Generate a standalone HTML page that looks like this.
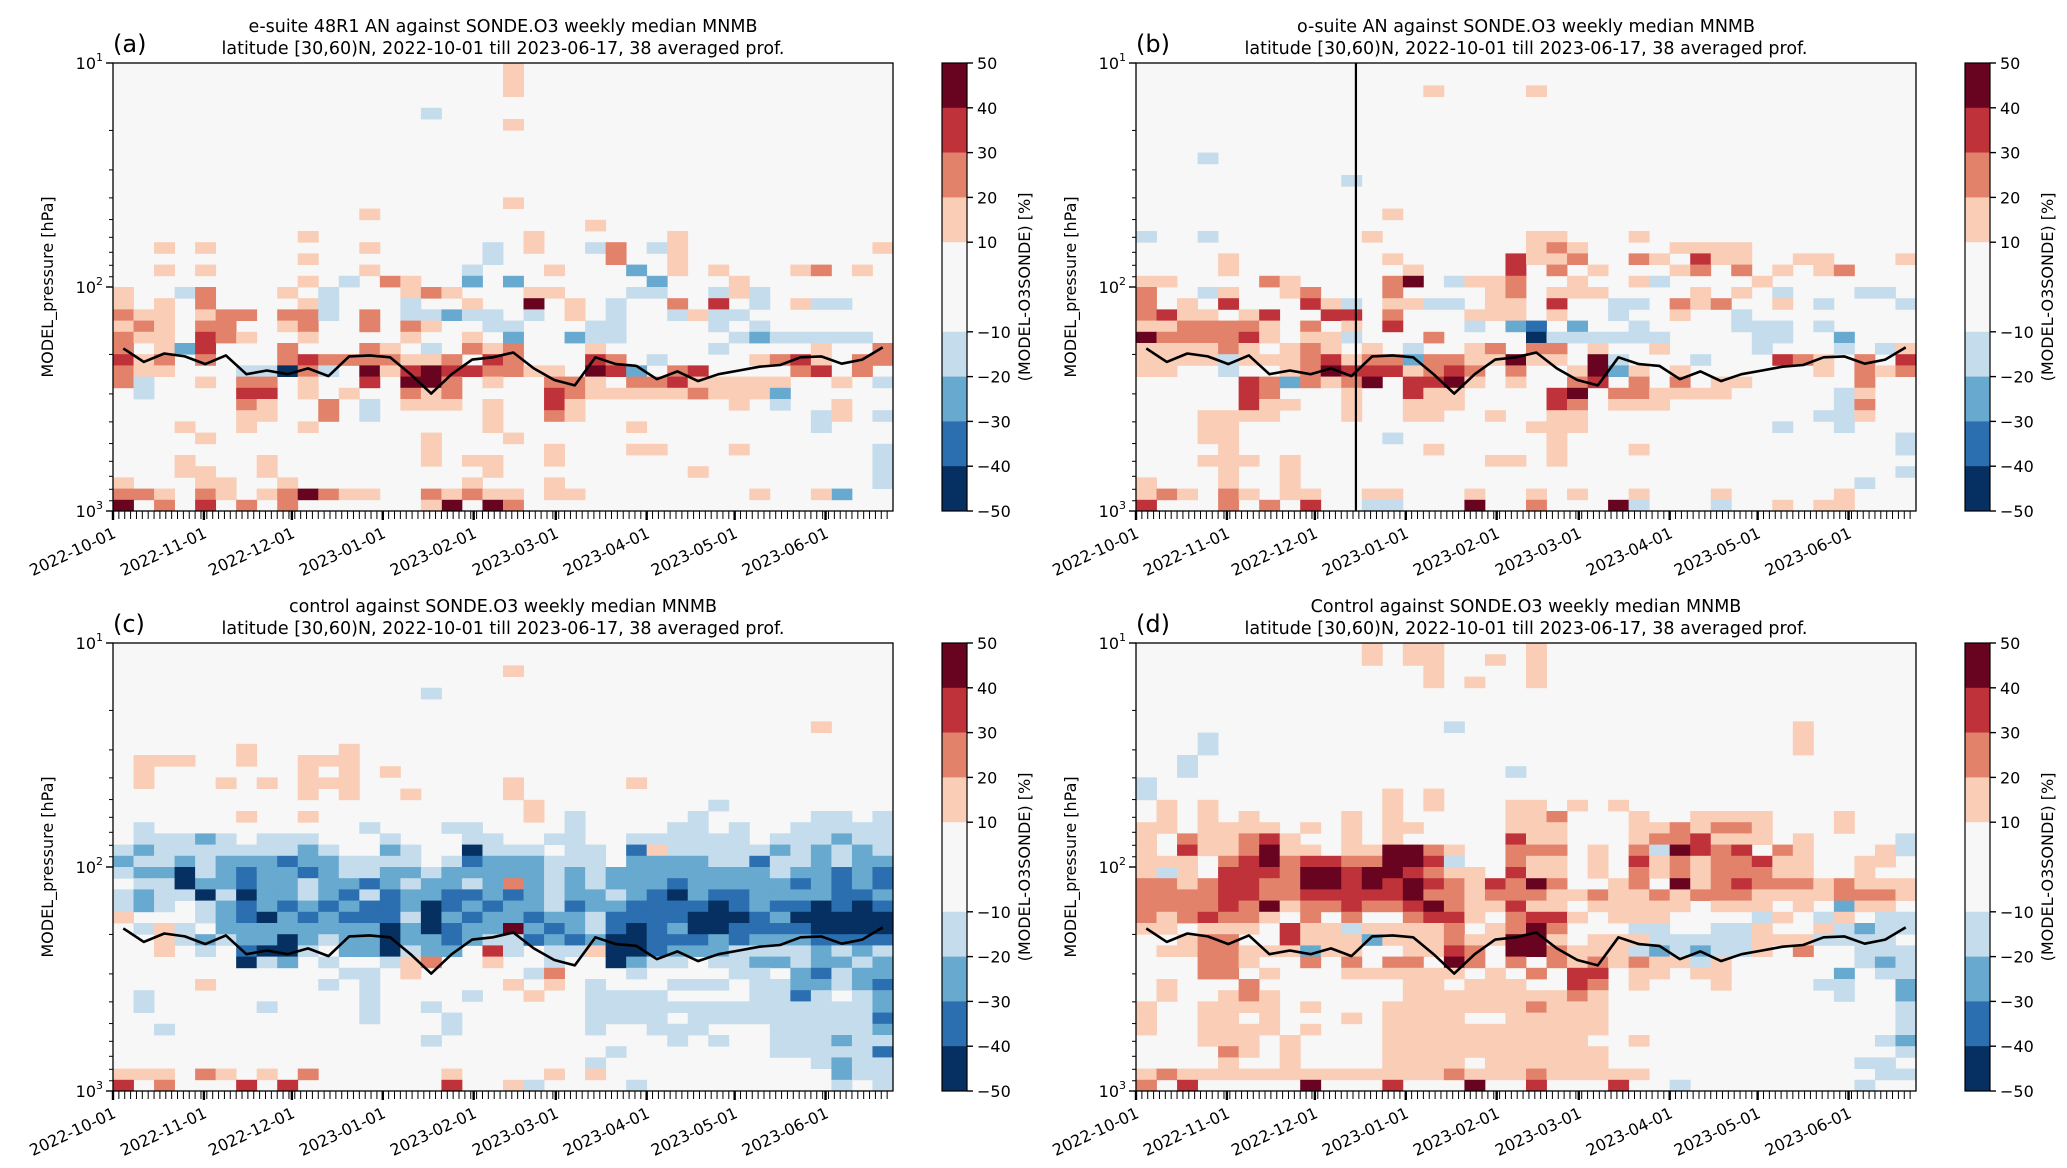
<!DOCTYPE html>
<html><head><meta charset="utf-8">
<style>
html,body{margin:0;padding:0;background:#fff;}
svg{display:block;font-family:"DejaVu Sans","Liberation Sans",sans-serif;}
</style></head>
<body>
<svg id="fig" width="2067" height="1168" viewBox="0 0 2067 1168" xmlns="http://www.w3.org/2000/svg"></svg>
<script>
// ---------- data ----------
const nWeeks = 38;
const startDate = "2022-10-01";
const monthLabels = ["2022-10-01","2022-11-01","2022-12-01","2023-01-01","2023-02-01","2023-03-01","2023-04-01","2023-05-01","2023-06-01"];
const monthDays = [0,31,61,92,123,151,182,212,243];
const cbarTicks = [50,40,30,20,10,-10,-20,-30,-40,-50];
const cbarBounds = [-50,-40,-30,-20,-10,10,20,30,40,50];
const tropoPressure = [188,216,198,204,221,202,245,236,245,231,250,204,202,206,245,299,245,211,206,196,231,260,275,206,221,225,258,238,263,245,236,227,223,206,204,220,211,186];
const codeValue = {'1':15,'2':25,'3':35,'4':45,'a':-15,'b':-25,'c':-35,'d':-45};
const titlesL1 = ["e-suite 48R1 AN against SONDE.O3 weekly median MNMB","o-suite AN against SONDE.O3 weekly median MNMB","control against SONDE.O3 weekly median MNMB","Control against SONDE.O3 weekly median MNMB"];
const titleL2 = "latitude [30,60)N, 2022-10-01 till 2023-06-17, 38 averaged prof.";
const panelTags = ["(a)","(b)","(c)","(d)"];
const vlineDay = [null,75,null,null];

const gridA = ["19:1","19:1","19:1","","15:a","19:1","","","","","","","19:1","12:1","23:1","9:1 20:1 27:1",
"23:a 24:2 18:a 2:1 4:1 12:1 26:a 37:1 20:1 27:1","24:2 27:1 9:1 18:a",
"2:1 4:1 17:a 21:1 25:b 27:1 29:1 33:1 34:2 36:1 12:1",
"17:b 19:b 9:1 11:a 13:2 26:b 14:1 30:1",
"0:1 3:a 4:2 8:1 10:a 14:1 15:2 16:1 20:1 21:1 25:a 26:a 29:a 30:1 31:a",
"0:1 2:1 4:2 9:1 10:a 14:a 17:1 20:4 22:1 24:a 27:2 29:3 31:a 33:1 34:a 35:a",
"0:2 1:1 2:1 4:1 5:2 6:2 8:2 9:2 10:a 12:2 14:a 15:a 16:b 17:a 18:a 20:a 22:1 24:a 27:a 28:1 29:a 30:a",
"0:1 1:2 2:1 4:2 5:2 8:1 9:2 12:2 14:2 15:1 18:a 19:a 23:a 24:a 29:a 31:a",
"0:2 1:1 2:1 4:3 5:2 6:1 9:1 14:1 17:1 19:b 22:b 23:a 24:a 30:a 31:b 32:a 33:a 34:a 35:a 36:a",
"0:2 2:1 3:b 4:3 8:2 12:2 13:1 15:a 17:2 18:1 19:2 23:1 29:a 34:1 37:2",
"0:3 1:1 2:2 4:2 8:2 9:3 10:2 11:2 12:2 13:2 14:1 15:1 16:2 18:3 19:2 23:3 24:2 26:a 31:1 32:2 33:3 34:1 36:2 37:2",
"0:2 1:1 2:1 6:a 7:a 8:d 9:2 10:a 12:4 13:1 14:3 15:4 16:3 17:3 18:2 19:2 20:1 21:1 23:4 24:3 25:b 27:2 28:3 33:2 34:3 36:2",
"0:2 1:a 4:1 6:2 7:2 9:1 12:3 14:4 15:4 16:2 18:1 21:2 22:2 23:1 25:2 26:2 27:3 28:1 29:1 30:1 31:1 32:1 35:1 37:a",
"1:a 6:3 7:3 9:1 11:1 14:2 15:1 16:2 21:3 22:2 23:1 24:1 25:1 26:1 27:1 28:2 29:1 30:1 31:1 32:b",
"6:2 7:1 10:2 12:a 14:1 15:1 16:1 18:1 21:3 22:1 30:1 32:a 35:1",
"6:1 7:1 10:2 12:a 18:1 21:2 22:1 35:1 34:a 37:a",
"3:1 9:1 6:1 18:1 34:a 25:1","4:1 15:1 19:1","15:1 21:1 25:1 26:1 30:1 37:a",
"3:1 7:1 15:1 21:1 17:1 18:1 37:a","3:1 4:1 7:1 18:1 28:1 37:a","0:1 4:1 5:1 8:1 17:1 21:1 37:a",
"0:2 1:2 2:1 4:2 5:1 7:1 8:2 9:4 10:2 11:1 12:1 15:2 16:1 17:2 18:1 19:1 21:1 22:1 35:b 31:1 34:1",
"0:4 2:2 4:3 6:2 8:2 16:4 18:4 19:2 15:1"];

const gridB = ["","","14:1 19:1","","","","","","3:a","","10:a","","","12:1","",
"24:1 19:1 20:1 3:a 0:a 11:1",
"19:1 20:2 21:1 28:1 27:1 29:1 26:1",
"4:1 12:1 18:3 19:1 20:1 21:2 24:2 25:1 27:3 28:1 29:1 32:1 33:1 37:1",
"4:1 13:1 18:3 20:2 22:1 26:1 27:2 29:2 31:1 33:1 34:2",
"0:1 1:1 6:2 7:1 12:2 13:4 15:a 16:1 17:1 18:2 21:1 24:1 25:a 30:1",
"0:2 3:a 4:1 7:1 8:2 12:2 17:1 18:2 20:1 21:1 22:1 27:1 29:1 31:a 35:a 36:a",
"0:2 2:1 4:3 8:3 9:1 10:a 12:1 13:1 14:a 15:a 17:1 18:1 20:3 23:a 24:a 26:2 27:1 28:2 31:1 33:a 37:a",
"0:2 1:3 2:1 3:1 5:1 6:3 9:3 10:3 12:2 16:1 17:1 18:1 20:1 23:a 26:1 29:a",
"0:1 1:1 2:2 3:2 4:2 5:2 6:1 8:2 10:1 12:3 16:a 18:b 19:c 21:b 24:a 29:a 30:a 31:a 33:a",
"0:4 1:2 2:2 3:2 4:2 5:3 6:1 8:1 9:1 10:a 14:2 19:d 20:a 21:a 22:a 23:a 24:a 25:a 30:a 31:a 34:b",
"0:1 1:1 2:1 3:1 4:2 5:1 7:1 8:2 9:1 11:1 13:a 16:1 17:2 19:2 20:2 22:1 25:1 30:a 34:a 36:a 37:1",
"0:1 1:1 2:1 3:1 4:a 5:1 6:1 7:1 8:2 9:3 10:1 11:2 12:2 13:b 14:2 15:2 16:1 17:1 18:4 19:1 20:1 22:4 23:a 27:a 31:3 32:2 33:1 35:2 37:3",
"0:1 1:1 4:a 7:1 8:2 9:4 10:3 11:3 12:3 13:1 14:2 15:3 16:2 18:2 21:1 22:4 23:b 24:1 26:1 33:1 35:2 36:1 37:2",
"5:3 6:2 7:b 8:2 9:1 10:2 11:4 13:3 14:3 15:4 16:1 18:1 21:2 22:3 24:2 26:2 28:1 29:1 35:2",
"5:3 6:2 10:1 13:3 14:1 15:1 20:3 21:4 23:2 24:2 25:1 26:1 27:1 28:1 34:a 35:1",
"5:3 6:1 7:1 10:1 13:1 14:1 15:1 20:3 21:2 23:1 24:1 25:1 34:a 35:2",
"3:1 4:1 5:1 6:1 10:1 13:1 14:1 17:1 20:1 21:1 33:a 34:a 35:1",
"4:1 3:1 20:1 21:1 34:a 31:a 19:1","3:1 4:1 12:a 20:1 37:a","4:1 14:1 20:1 37:a 24:1",
"3:1 4:1 5:1 7:1 17:1 18:1 20:1","4:1 7:1 37:a","0:1 4:1 7:1 35:a",
"0:1 1:2 2:1 4:2 5:1 7:1 8:1 11:1 12:1 16:1 19:1 21:1 24:1 28:1 34:1",
"0:3 4:2 6:2 8:3 11:a 12:a 16:4 19:2 23:4 24:a 28:a 33:1 34:1 31:1"];

const gridC = ["","","19:1","","15:a","","","34:1","","6:1 11:1",
"1:1 2:1 3:1 6:1 9:1 10:1 11:1","1:1 9:1 11:1 13:1","1:1 5:1 7:1 9:1 10:1 11:1 19:1 25:1","9:1 11:1 14:1 19:1","20:1 29:a",
"6:1 9:1 20:1 22:a 28:a 34:a 37:a 35:a",
"1:a 12:a 16:a 17:a 22:a 27:a 28:a 30:a 33:a 34:a 35:a 36:a 37:a",
"1:a 2:a 3:a 4:b 5:a 7:a 8:a 9:a 13:a 17:a 18:a 21:a 22:a 25:a 26:a 27:a 28:a 29:a 30:a 32:a 33:a 34:a 35:b 36:a 37:a",
"0:a 1:b 2:a 3:a 4:a 5:a 6:a 7:a 8:a 9:b 10:a 13:b 14:a 17:d 18:a 19:a 20:a 22:a 23:a 25:c 26:1 27:a 28:a 29:a 30:a 31:a 32:b 33:a 34:b 35:a 36:b 37:a",
"0:b 1:a 2:a 3:b 4:a 5:b 6:b 7:b 8:c 9:b 10:b 11:a 12:a 13:a 14:a 16:a 17:c 18:b 19:b 20:b 21:a 22:a 23:a 25:b 26:b 27:b 28:b 29:a 30:a 31:c 32:a 33:a 34:b 35:a 36:b 37:b",
"0:a 1:b 2:b 3:d 4:a 5:b 6:c 7:b 8:b 9:c 10:b 11:a 12:a 13:b 14:b 15:a 16:b 17:b 18:b 19:b 20:b 21:a 22:b 23:a 24:b 25:b 26:b 27:b 28:b 29:b 30:b 31:b 32:a 33:b 34:b 35:c 36:b 37:c",
"1:a 2:a 3:d 4:b 5:b 6:c 7:b 8:b 9:a 10:b 11:b 12:c 13:b 14:a 15:b 16:b 17:a 18:b 19:2 20:b 21:a 22:b 23:a 24:b 25:b 26:b 27:c 28:b 29:b 30:b 31:b 32:b 33:c 34:b 35:c 36:b 37:c",
"0:a 1:b 2:a 3:a 4:d 5:a 6:d 7:b 8:b 9:a 10:b 11:c 12:a 13:c 14:b 15:b 16:c 17:c 18:b 19:c 20:b 21:a 22:b 23:b 24:a 25:b 26:c 27:d 28:b 29:c 30:c 31:b 32:b 33:b 34:b 35:c 36:c 37:b",
"0:a 1:b 2:a 4:a 5:b 6:c 7:b 8:c 9:b 10:c 11:b 12:c 13:c 14:b 15:d 16:c 17:b 18:c 19:b 20:b 21:a 22:c 23:b 24:b 25:c 26:c 27:c 28:c 29:d 30:c 31:b 32:c 33:c 34:d 35:c 36:d 37:c",
"0:1 4:a 5:b 6:c 7:d 8:b 9:c 10:b 11:c 12:c 13:c 14:a 15:d 16:b 17:c 18:b 19:b 20:c 21:b 22:b 23:a 24:c 25:c 26:c 27:c 28:d 29:d 30:d 31:c 32:b 33:d 34:d 35:d 36:d 37:d",
"1:a 2:1 3:a 5:b 6:b 7:b 8:b 9:b 10:b 11:b 12:b 13:d 14:b 15:d 16:c 17:b 18:b 19:4 20:b 21:c 22:b 23:a 24:c 25:d 26:c 27:b 28:d 29:d 30:c 31:c 32:c 33:c 34:d 35:d 36:d 37:d",
"2:1 3:a 4:b 5:a 6:b 7:b 8:d 9:b 10:a 11:b 12:b 13:d 14:b 15:b 16:c 17:b 18:a 19:a 20:c 21:b 22:c 23:b 24:d 25:d 26:c 27:c 28:c 29:b 30:c 31:b 32:b 33:b 34:c 35:c 36:c 37:c",
"2:1 4:a 6:c 7:d 8:d 9:a 11:b 12:b 13:d 14:a 15:b 16:b 18:3 19:a 21:a 22:a 23:1 24:d 25:d 26:c 27:b 28:b 29:b 30:a 31:a 32:a 33:a 34:b 35:a 36:b 37:a",
"6:d 7:a 8:b 10:a 13:a 14:1 15:2 18:1 21:a 24:d 25:b 26:a 27:a 29:a 30:a 31:b 32:b 33:a 34:b 35:b 36:a 37:b",
"11:a 12:a 14:1 20:a 21:2 25:a 30:a 31:a 33:b 34:c 35:a 36:b 37:b",
"4:1 10:a 12:a 19:1 21:1 23:a 27:a 28:a 29:a 31:a 32:a 33:b 34:b 35:a 36:b 37:c",
"1:a 12:a 17:a 20:1 23:a 24:a 25:a 26:a 31:a 32:a 33:c 34:a 36:a 37:b",
"1:a 7:a 12:a 15:a 23:a 24:a 25:a 26:a 27:a 28:a 29:a 30:a 31:a 32:a 33:a 34:a 35:a 36:a 37:b",
"12:a 16:a 23:a 24:a 25:a 26:a 28:a 29:a 30:a 31:a 32:a 33:a 34:a 35:a 36:a 37:c",
"2:a 16:a 23:a 26:a 27:a 28:a 32:a 33:a 34:a 35:a 36:a 37:b",
"15:a 27:a 29:a 32:a 33:a 34:a 35:b 36:a 37:a",
"24:a 32:a 33:a 34:a 35:a 36:a 37:c",
"23:a 34:a 35:b 36:a 37:a",
"0:1 1:1 2:1 4:2 5:1 7:1 9:2 16:1 21:1 23:1 35:b 36:a 37:a",
"0:3 2:2 6:3 8:3 16:3 19:1 20:a 25:a 35:a 37:a"];

const gridD = ["11:1 13:1 14:1 19:1","11:1 13:1 14:1 17:1 19:1","14:1 19:1","14:1 16:1 19:1","","","","15:a 32:1","3:a 32:1","3:a 32:1",
"2:a","2:a 18:a","0:a","0:a 12:1 14:1",
"1:1 3:1 12:1 14:1 18:1 19:1 21:1 23:1",
"1:1 3:1 5:1 10:1 12:1 18:1 19:1 20:2 24:1 27:1 28:1 29:1 30:1 34:1",
"0:1 1:1 3:1 4:1 5:1 6:1 8:1 10:1 12:1 13:1 18:1 19:1 20:1 24:1 25:1 26:2 27:1 28:2 29:2 30:1 34:1",
"0:1 2:2 3:1 4:1 5:2 6:3 7:1 10:1 12:1 18:3 19:1 20:1 24:1 25:2 26:2 27:3 28:1 29:1 30:1 32:1 37:a",
"0:1 2:3 3:1 4:1 5:2 6:4 7:1 8:1 10:1 11:1 12:4 13:4 14:2 15:1 18:2 19:2 20:2 22:1 24:2 25:a 26:4 27:3 28:2 29:3 31:2 32:1 36:1 37:a",
"0:1 1:1 2:1 4:2 5:3 6:4 7:2 8:3 9:3 10:2 11:2 12:4 13:4 14:3 15:a 18:2 19:1 20:1 22:1 24:3 25:1 26:2 27:1 28:2 29:2 30:3 31:1 32:1 35:1 36:1",
"0:1 1:a 2:1 4:3 5:3 6:3 7:2 8:4 9:4 10:3 11:4 12:4 13:3 14:2 15:1 16:1 18:3 19:1 20:1 22:1 24:2 25:1 26:2 27:1 28:2 29:2 30:2 31:1 32:1 35:1",
"0:2 1:2 2:1 3:2 4:3 5:3 6:2 7:2 8:4 9:4 10:3 11:4 12:3 13:4 14:3 15:2 16:1 17:3 18:2 19:4 20:2 23:1 24:2 26:4 27:1 28:2 29:3 30:2 31:2 32:2 33:1 34:2 35:1 36:1 37:1",
"0:2 1:2 2:2 3:2 4:3 5:3 6:2 7:2 8:3 9:3 10:3 11:3 12:3 13:4 14:2 15:2 16:1 17:2 18:2 19:2 20:1 21:1 22:2 23:1 24:1 25:2 26:1 27:2 28:2 29:2 30:1 31:1 32:1 33:1 34:2 35:2 36:2 37:1",
"0:2 1:2 2:2 3:2 4:3 5:2 6:4 7:1 8:2 9:2 10:3 11:2 12:2 13:3 14:4 15:2 16:1 17:1 18:3 19:1 20:1 22:1 23:1 24:1 25:1 26:1 28:1 29:1 30:1 32:1 34:b 35:1 36:1",
"0:2 1:1 2:2 3:3 4:2 5:2 6:1 8:2 10:2 13:2 14:3 15:3 16:1 18:2 19:3 20:3 21:1 23:1 24:1 25:1 30:a 31:1 33:a 34:1 36:a 37:a",
"0:1 1:1 3:1 4:1 5:1 7:3 8:1 9:1 10:a 11:1 12:1 13:1 14:1 15:2 17:1 18:2 19:4 20:2 24:a 25:a 28:a 29:a 30:1 33:1 34:a 35:b 36:a 37:a",
"2:1 3:2 4:2 7:3 8:1 9:1 10:1 11:b 12:1 13:1 14:1 15:2 16:1 17:1 18:4 19:4 20:1 22:1 23:1 24:1 25:a 26:a 27:a 28:a 29:a 30:1 31:1 32:1 33:a 34:a 35:a 36:a",
"1:1 2:1 3:2 4:2 5:1 6:1 7:1 8:b 9:1 10:1 13:1 14:1 15:3 16:2 18:4 19:4 20:2 21:1 22:1 23:1 24:a 25:b 26:a 27:b 28:a 29:a 30:1 32:2 35:a 36:a 37:a",
"3:2 4:2 5:1 8:2 10:2 12:2 13:2 15:4 16:2 18:2 20:2 21:1 22:2 23:1 24:2 25:1 26:1 27:a 28:1 35:a 36:b 37:a",
"3:2 4:2 6:1 10:1 11:1 12:1 13:1 14:1 15:1 17:1 19:2 21:3 22:3 24:1 25:1 27:1 28:1 34:b 36:a 37:a",
"1:1 5:2 13:1 14:1 16:1 17:1 18:1 21:3 22:2 24:1 28:1 33:a 34:a 37:b",
"1:1 4:1 5:2 6:1 13:1 14:1 15:1 16:1 17:1 18:1 19:1 20:1 21:2 22:1 34:a 37:b",
"0:1 3:1 4:1 5:1 6:1 8:1 12:1 13:1 14:1 15:1 16:1 17:1 18:1 19:2 20:1 21:1 22:1 37:a",
"0:1 3:1 4:1 6:1 10:1 12:1 13:1 14:1 15:1 18:1 19:1 20:1 21:1 22:1 37:a",
"0:1 3:1 4:1 5:1 6:1 8:1 12:1 13:1 14:1 15:1 16:1 17:1 18:1 19:1 20:1 21:1 22:1 37:a",
"3:1 4:1 5:1 7:1 12:1 13:1 14:1 15:1 16:1 17:1 18:1 19:1 20:1 21:1 24:1 36:a 37:b",
"4:2 5:1 7:1 12:1 13:1 14:1 15:1 16:1 17:1 18:1 19:1 20:1 21:1 22:1 37:a",
"4:1 7:1 12:1 13:1 14:1 15:1 17:1 18:1 19:1 20:1 21:1 22:1 35:a 36:a",
"0:1 1:2 2:1 3:1 4:1 5:1 6:1 7:1 8:1 9:1 10:1 11:1 12:1 13:1 14:1 15:2 16:1 17:1 18:1 19:2 20:1 21:1 22:1 23:1 24:1 36:a 37:a",
"0:2 2:3 8:4 12:3 16:4 19:3 23:3 26:a 35:a"];

const grids = [gridA, gridB, gridC, gridD];

// ---------- layout ----------
const NS = "http://www.w3.org/2000/svg";
const svg = document.getElementById('fig');
const W = 780, H = 448, NROWS = 40, DAYS = 266;
const origins = [[113,63],[1136,63],[113,643],[1136,643]];
const cbarColors = ['#053061','#2b6fb1','#67a9cf','#c4dcec','#f7f7f7','#f9cdb6','#e3826a','#c0323a','#690420'];
function colorFor(v){
  for (let i=0;i<cbarBounds.length-1;i++){ if (v>=cbarBounds[i] && v<cbarBounds[i+1]) return cbarColors[i]; }
  return v>=50 ? cbarColors[8] : cbarColors[0];
}
const cbarBandColors = ['#053061','#2b6fb1','#67a9cf','#c4dcec','#f7f7f7','#f9cdb6','#e3826a','#c0323a','#690420'];
function el(tag, attrs, parent){
  const e = document.createElementNS(NS, tag);
  for (const k in attrs) e.setAttribute(k, attrs[k]);
  (parent||svg).appendChild(e);
  return e;
}
function yOfP(oy, p){ return oy + (Math.log10(p)-1)/2*H; }
function xOfDay(ox, d){ return ox + d/DAYS*W; }

origins.forEach((o, pi) => {
  const [ox, oy] = o;
  const g = el('g', {});
  
  
  const bg = el('rect', {x:ox, y:oy, width:W, height:H, fill:'#f7f7f7'}, g);
  
  
  // heatmap
  const cw = W/nWeeks, rh = H/NROWS;
  const hm = el('g', {}, g);
  
  
  grids[pi].forEach((row, r) => {
    row.split(' ').filter(s=>s).forEach(tok => {
      const [c, code] = tok.split(':');
      const v = codeValue[code];
      const cell = el('rect', {x:(ox + (+c)*cw).toFixed(2), y:(oy + r*rh).toFixed(2), width:(cw+0.4).toFixed(2), height:(rh+0.4).toFixed(2), fill:colorFor(v)}, hm);
      
      
    });
  });
  // tropopause line
  const pts = tropoPressure.map((p,i)=> (ox + (i+0.5)*cw).toFixed(1)+','+yOfP(oy,p).toFixed(1)).join(' ');
  const line = el('polyline', {points:pts, fill:'none', stroke:'#000', 'stroke-width':2.6, 'stroke-linejoin':'round'}, g);
  
  
  if (vlineDay[pi] !== null){
    const vx = xOfDay(ox, vlineDay[pi]);
    const vl = el('line', {x1:vx, x2:vx, y1:oy, y2:oy+H, stroke:'#000', 'stroke-width':2.2}, g);
    
    
  }
  const frame = el('rect', {x:ox, y:oy, width:W, height:H, fill:'none', stroke:'#000', 'stroke-width':1.3}, g);
  
  
  // y ticks
  [10,100,1000].forEach((p,i) => {
    const y = yOfP(oy,p);
    el('line', {x1:ox-7, x2:ox, y1:y, y2:y, stroke:'#000', 'stroke-width':1.4}, g);
    const t = el('text', {x:ox-10, y:y+6, 'font-size':16, 'text-anchor':'end', fill:'#000'}, g);
    
    
    t.innerHTML = '10<tspan dy="-8" font-size="11">' + (i+1) + '</tspan>';
  });
  [20,30,40,50,60,70,80,90,200,300,400,500,600,700,800,900].forEach(p => {
    const y = yOfP(oy,p);
    el('line', {x1:ox-4, x2:ox, y1:y, y2:y, stroke:'#000', 'stroke-width':1}, g);
  });
  const yl = el('text', {x:0, y:0, 'font-size':16, 'text-anchor':'middle', transform:`translate(${ox-60},${oy+H/2}) rotate(-90)`}, g);
  
  
  yl.textContent = 'MODEL_pressure [hPa]';
  // x ticks
  for (let d=0; d<=DAYS-2; d+=2){
    const x = xOfDay(ox,d);
    el('line', {x1:x, x2:x, y1:oy+H, y2:oy+H+8, stroke:'#000', 'stroke-width':1}, g);
  }
  monthDays.forEach((d,i) => {
    const x = xOfDay(ox,d);
    el('line', {x1:x, x2:x, y1:oy+H, y2:oy+H+9, stroke:'#000', 'stroke-width':2.4}, g);
    const t = el('text', {x:0, y:0, 'font-size':16, 'text-anchor':'end', transform:`translate(${x+4},${oy+H+26}) rotate(-25)`}, g);
    
    
    t.textContent = monthLabels[i];
  });
  // titles
  const cx = ox + W/2;
  const t1 = el('text', {x:cx, y:oy-31, 'font-size':17.5, 'text-anchor':'middle'}, g);
  
  
  t1.textContent = titlesL1[pi];
  const t2 = el('text', {x:cx, y:oy-9, 'font-size':17.5, 'text-anchor':'middle'}, g);
  
  
  t2.textContent = titleL2;
  const tag = el('text', {x:ox, y:oy-11, 'font-size':24}, g);
  
  
  tag.textContent = panelTags[pi];
  // colorbar
  const bx = ox + 829, bw = 25, bh = H/ (cbarBandColors.length);
  const cb = el('g', {}, g);
  
  
  cbarBandColors.forEach((c,i) => {
    // top band = highest
    const idx = cbarBandColors.length-1-i;
    const yTop = oy + H*(50 - cbarBounds[idx+1])/100;
    const yBot = oy + H*(50 - cbarBounds[idx])/100;
    el('rect', {x:bx, y:yTop, width:bw, height:yBot-yTop+0.3, fill:cbarBandColors[idx]}, cb);
  });
  el('rect', {x:bx, y:oy, width:bw, height:H, fill:'none', stroke:'#000', 'stroke-width':1.2}, cb);
  cbarTicks.forEach(v => {
    const y = oy + H*(50 - v)/100;
    el('line', {x1:bx+bw, x2:bx+bw+6, y1:y, y2:y, stroke:'#000', 'stroke-width':1.4}, cb);
    const t = el('text', {x:bx+bw+10, y:y+6, 'font-size':16}, cb);
    
    
    t.textContent = v < 0 ? '\u2212' + Math.abs(v) : String(v);
  });
  const cl = el('text', {x:0, y:0, 'font-size':16, 'text-anchor':'middle', transform:`translate(${bx+bw+63},${oy+H/2}) rotate(-90)`}, cb);
  
  
  cl.textContent = '(MODEL-O3SONDE) [%]';
});
</script>
</body></html>
